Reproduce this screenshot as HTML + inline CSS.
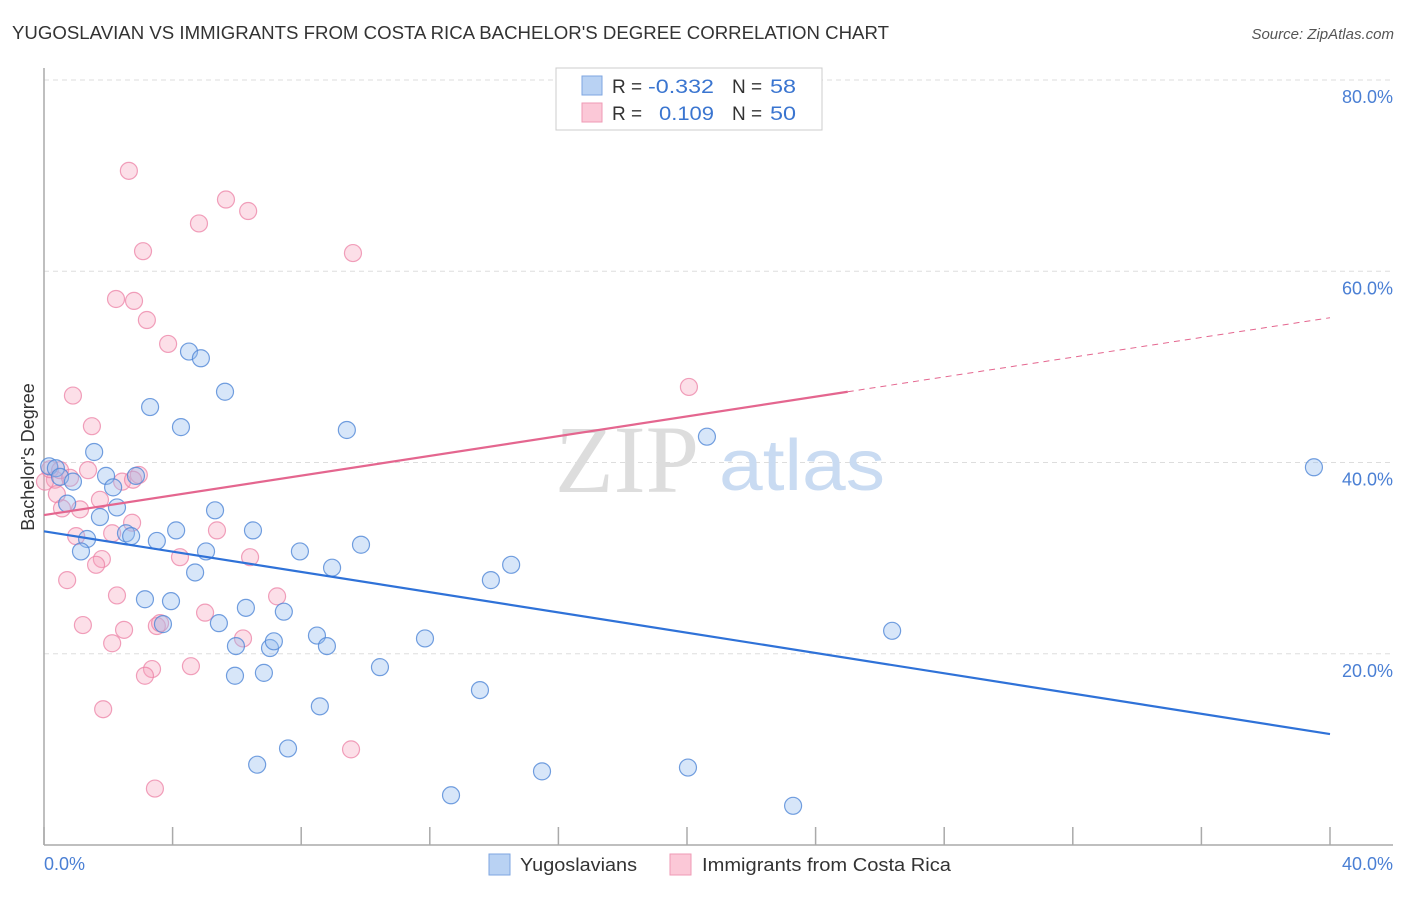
<!DOCTYPE html>
<html><head><meta charset="utf-8"><style>
body{margin:0;background:#fff;font-family:"Liberation Sans",sans-serif;}
svg text{font-family:"Liberation Sans",sans-serif;}
</style></head><body>
<svg id="chart" width="1406" height="892" xmlns="http://www.w3.org/2000/svg">
<text x="12" y="39" font-size="18" fill="#333" textLength="877" lengthAdjust="spacingAndGlyphs">YUGOSLAVIAN VS IMMIGRANTS FROM COSTA RICA BACHELOR'S DEGREE CORRELATION CHART</text>
<text x="1394" y="39" font-size="15" fill="#555" font-style="italic" text-anchor="end">Source: ZipAtlas.com</text>
<g id="grid"></g>
<g>
<text x="555" y="492" font-size="96" fill="#ddd" font-family="Liberation Serif" style="font-family:'Liberation Serif',serif">ZIP</text>
<text x="719" y="490" font-size="72" fill="#c9dbf2" textLength="166" lengthAdjust="spacingAndGlyphs">atlas</text>
</g>
<g id="axes"></g>
<g id="pts"></g>
<g id="lines"></g>
<text transform="translate(34,457) rotate(-90)" font-size="18" fill="#333" text-anchor="middle">Bachelor's Degree</text>
<text x="44" y="870" font-size="18" fill="#4a7fd4">0.0%</text>
<text x="1393" y="870" font-size="18" fill="#4a7fd4" text-anchor="end">40.0%</text>
<g>
<rect x="556" y="68" width="266" height="62" fill="#fff" stroke="#ccc"/>
<rect x="582" y="76" width="20" height="19" fill="#b9d2f3" stroke="#7ea6e0"/>
<rect x="582" y="103" width="20" height="19" fill="#fbc8d7" stroke="#ef9ab4"/>
<text x="612" y="93" font-size="19" fill="#333">R = </text><text x="648" y="93" font-size="19" fill="#3a75d0" textLength="66" lengthAdjust="spacingAndGlyphs">-0.332</text>
<text x="732" y="93" font-size="19" fill="#333">N = </text><text x="770" y="93" font-size="19" fill="#3a75d0" textLength="26" lengthAdjust="spacingAndGlyphs">58</text>
<text x="612" y="120" font-size="19" fill="#333">R = </text><text x="659" y="120" font-size="19" fill="#3a75d0" textLength="55" lengthAdjust="spacingAndGlyphs">0.109</text>
<text x="732" y="120" font-size="19" fill="#333">N = </text><text x="770" y="120" font-size="19" fill="#3a75d0" textLength="26" lengthAdjust="spacingAndGlyphs">50</text>
</g>
<g>
<rect x="489" y="854" width="21" height="21" fill="#b9d2f3" stroke="#7ea6e0"/>
<text x="520" y="871" font-size="18" fill="#333" textLength="117" lengthAdjust="spacingAndGlyphs">Yugoslavians</text>
<rect x="670" y="854" width="21" height="21" fill="#fbc8d7" stroke="#ef9ab4"/>
<text x="702" y="871" font-size="18" fill="#333" textLength="249" lengthAdjust="spacingAndGlyphs">Immigrants from Costa Rica</text>
</g>
</svg>
<script>
const yTicks=[20,40,60,80];
const yTickLabels=["20.0%","40.0%","60.0%","80.0%"];
const xTicks=[0,4,8,12,16,20,24,28,32,36,40];
const blueX=[0.16,0.37,0.50,0.90,0.72,1.56,1.93,2.15,2.86,1.74,2.27,1.34,1.15,2.55,2.71,3.30,4.26,4.51,4.88,5.63,3.51,4.11,5.04,5.32,6.50,4.70,3.14,3.95,3.70,5.44,6.28,7.46,5.97,7.03,7.15,5.94,6.84,7.96,8.96,8.49,8.80,9.86,9.42,8.58,7.59,6.63,10.45,11.85,13.90,14.53,13.56,12.66,15.49,20.62,20.03,23.30,26.38,39.50];
const blueY=[39.6,39.4,38.5,38.0,35.7,41.1,38.6,37.4,38.6,34.3,35.3,32.0,30.7,32.6,32.3,45.8,43.7,51.6,50.9,47.4,31.8,32.9,30.7,35.0,32.9,28.5,25.7,25.5,23.1,23.2,24.8,24.4,20.8,20.6,21.3,17.7,18.0,30.7,29.0,21.9,20.8,31.4,43.4,14.5,10.1,8.4,18.6,21.6,27.7,29.3,16.2,5.2,7.7,42.7,8.1,4.1,22.4,39.5];
const pinkX=[2.64,5.66,6.35,4.82,3.08,9.61,2.24,2.80,3.20,3.86,0.90,20.06,1.49,1.37,2.95,2.43,0.34,0.40,0.56,1.12,1.74,2.12,2.74,1.00,5.38,6.41,4.23,1.80,1.62,0.72,2.27,7.25,5.01,1.21,2.49,3.51,3.61,6.19,2.12,4.57,3.36,3.14,1.84,9.55,3.45,0.03,0.19,2.77,0.50,0.81];
const pinkY=[70.5,67.5,66.3,65.0,62.1,61.9,57.1,56.9,54.9,52.4,47.0,47.9,43.8,39.2,38.7,38.0,38.2,36.7,35.2,35.1,36.1,32.6,33.7,32.3,32.9,30.1,30.1,29.9,29.3,27.7,26.1,26.0,24.3,23.0,22.5,22.9,23.2,21.6,21.1,18.7,18.4,17.7,14.2,10.0,5.9,38.0,39.3,38.2,39.2,38.4];
const blueTrend=[32.8,11.6];
const pinkTrend=[34.5,0.516];
const pinkSolidEnd=25;

const NS="http://www.w3.org/2000/svg";
const X=v=>44+v/40*1286;
const Y=v=>845-v/80*765;
function mk(tag,attrs,parent){const e=document.createElementNS(NS,tag);for(const k in attrs)e.setAttribute(k,attrs[k]);parent.appendChild(e);return e;}
const grid=document.getElementById('grid'),axes=document.getElementById('axes'),pts=document.getElementById('pts'),lines=document.getElementById('lines');
yTicks.forEach((t,i)=>{
  const l=mk('line',{x1:44,x2:1393,y1:Y(t),y2:Y(t),stroke:'#ddd','stroke-dasharray':'5,4'},grid);
  
  
  const tx=mk('text',{x:1393,y:Y(t)+23,'font-size':18,fill:'#4a7fd4','text-anchor':'end'},grid);
  tx.textContent=yTickLabels[i];
  
  
});
const ya=mk('line',{x1:44,x2:44,y1:68,y2:845,stroke:'#aaa','stroke-width':1.5},axes);


const xa=mk('line',{x1:44,x2:1393,y1:845,y2:845,stroke:'#aaa','stroke-width':1.5},axes);


xTicks.forEach(t=>{
  const l=mk('line',{x1:X(t),x2:X(t),y1:827,y2:845,stroke:'#aaa','stroke-width':1.5},axes);
  
  
});
pinkX.forEach((v,i)=>{
  const c=mk('circle',{cx:X(v),cy:Y(pinkY[i]),r:8.5,fill:'rgba(246,164,190,0.35)',stroke:'rgba(236,130,165,0.75)','stroke-width':1.2},pts);
  
  
});
blueX.forEach((v,i)=>{
  const c=mk('circle',{cx:X(v),cy:Y(blueY[i]),r:8.5,fill:'rgba(150,188,238,0.38)',stroke:'rgba(80,135,215,0.8)','stroke-width':1.2},pts);
  
  
});
const bl=mk('line',{x1:X(0),y1:Y(blueTrend[0]),x2:X(40),y2:Y(blueTrend[1]),stroke:'#2f72d8','stroke-width':2.2},lines);


const pf=x=>pinkTrend[0]+pinkTrend[1]*x;
const pl=mk('line',{x1:X(0),y1:Y(pf(0)),x2:X(pinkSolidEnd),y2:Y(pf(pinkSolidEnd)),stroke:'#e4668f','stroke-width':2.2},lines);


const pd=mk('line',{x1:X(pinkSolidEnd),y1:Y(pf(pinkSolidEnd)),x2:X(40),y2:Y(pf(40)),stroke:'#e4668f','stroke-width':1,'stroke-dasharray':'6,5'},lines);


</script>
</body></html>
